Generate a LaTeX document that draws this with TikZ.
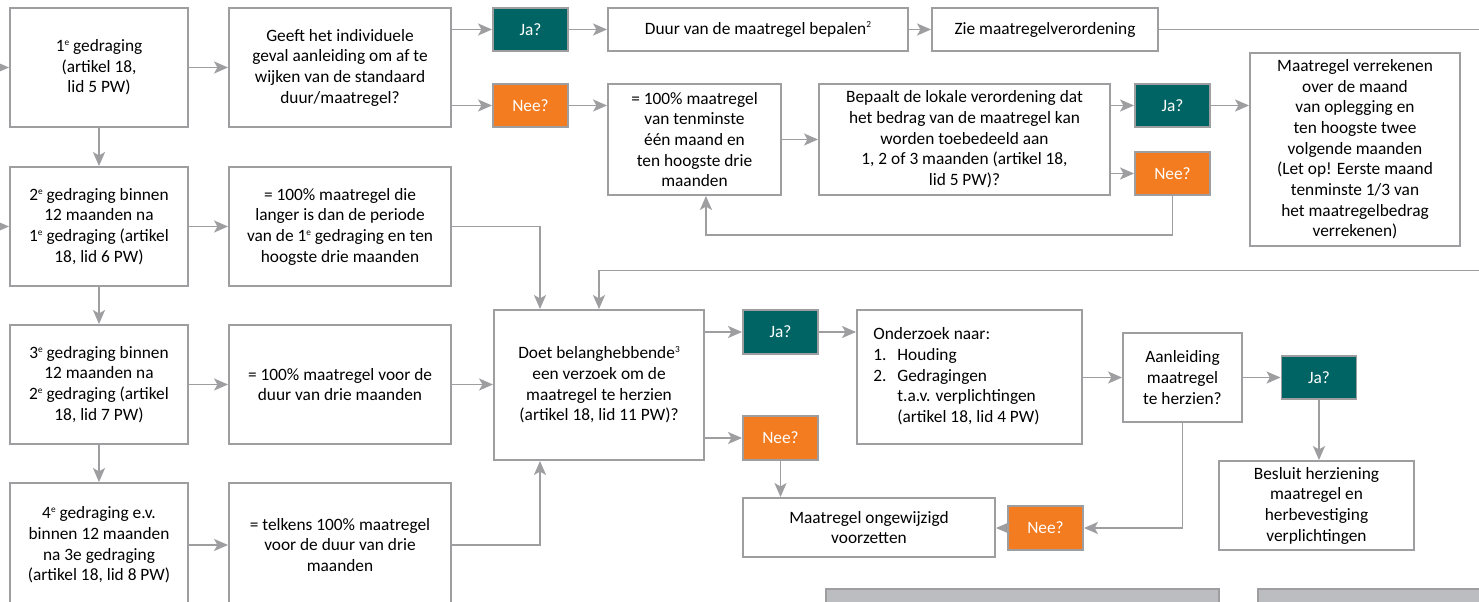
\documentclass[tikz,border=0pt]{standalone}
\usepackage{fontspec}
\setmainfont{Carlito}
\usetikzlibrary{arrows.meta}
\definecolor{lijngrijs}{RGB}{158,158,160}
\definecolor{jagroen}{RGB}{0,100,100}
\definecolor{neeoranje}{RGB}{243,123,32}
\definecolor{nootgrijs}{RGB}{188,189,192}
\newcommand{\bovenschr}[1]{\raisebox{0.75ex}{\fontsize{7}{7}\selectfont #1}}

\begin{document}
\begin{tikzpicture}[x=0.75pt,y=0.75pt,yscale=-1,xscale=1,
    blok/.style={draw=lijngrijs, line width=1.4pt, fill=white, align=center, inner sep=0pt, font=\fontsize{13}{15.5}\selectfont},
    links/.style={blok, minimum width=133.5pt, minimum height=89.25pt},
    midden/.style={blok, minimum width=166.5pt, minimum height=89.25pt},
    ja/.style={blok, fill=jagroen, text=white, minimum width=56.25pt, minimum height=32.25pt},
    nee/.style={ja, fill=neeoranje},
    pijl/.style={draw=lijngrijs, line width=1.4pt, -{Stealth[length=10.5pt,width=9pt,inset=2.5pt]}},
    lijn/.style={draw=lijngrijs, line width=1.4pt}]
    \useasboundingbox (0,0) rectangle (1479,602);
    \clip (0,0) rectangle (1479,602);

    % Text Node
    \node[links] (gedr1) at (99,67.5) {1\bovenschr{e} gedraging\\(artikel 18,\\lid 5 PW)};
    % Text Node
    \node[links] (gedr2) at (99,226.5) {2\bovenschr{e} gedraging binnen\\12 maanden na\\1\bovenschr{e} gedraging (artikel\\18, lid 6 PW)};
    % Text Node
    \node[links] (gedr3) at (99,384.5) {3\bovenschr{e} gedraging binnen\\12 maanden na\\2\bovenschr{e} gedraging (artikel\\18, lid 7 PW)};
    % Text Node
    \node[links, minimum height=93pt] (gedr4) at (99,545) {4\bovenschr{e} gedraging e.v.\\binnen 12 maanden\\na 3e gedraging\\(artikel 18, lid 8 PW)};
    % Text Node
    \node[midden] (std1) at (340,67.5) {Geeft het individuele\\geval aanleiding om af te\\wijken van de standaard\\duur/maatregel?};
    % Text Node
    \node[midden] (std2) at (340,226.5) {= 100\% maatregel die\\langer is dan de periode\\van de 1\bovenschr{e} gedraging en ten\\hoogste drie maanden};
    % Text Node
    \node[midden] (std3) at (340,384.5) {= 100\% maatregel voor de\\duur van drie maanden};
    % Text Node
    \node[midden, minimum height=93pt] (std4) at (340,545) {= telkens 100\% maatregel\\voor de duur van drie\\maanden};
    % Text Node
    \node[ja] (ja1) at (530.5,29.5) {Ja?};
    \node[nee] (nee1) at (530.5,105.5) {Nee?};
    % Text Node
    \node[blok, minimum width=225pt, minimum height=32.25pt] (duur) at (758,29.5) {Duur van de maatregel bepalen\bovenschr{2}};
    % Text Node
    \node[blok, minimum width=169.5pt, minimum height=32.25pt] (zie) at (1045,29.5) {Zie maatregelverordening};
    % Text Node
    \node[blok, minimum width=129.75pt, minimum height=83.25pt] (p100) at (694.5,139.5) {= 100\% maatregel\\van tenminste\\één maand en\\ten hoogste drie\\maanden};
    % Text Node
    \node[blok, minimum width=218.25pt, minimum height=83.25pt] (bepaalt) at (964.5,139.5) {Bepaalt de lokale verordening dat\\het bedrag van de maatregel kan\\worden toebedeeld aan\\1, 2 of 3 maanden (artikel 18,\\lid 5 PW)?};
    % Text Node
    \node[ja] (ja2) at (1172.5,105.5) {Ja?};
    \node[nee] (nee2) at (1172.5,173.5) {Nee?};
    % Text Node
    \node[blok, minimum width=157.5pt, minimum height=144.75pt] (verrek) at (1355,149.5) {Maatregel verrekenen\\over de maand\\van oplegging en\\ten hoogste twee\\volgende maanden\\(Let op! Eerste maand\\tenminste 1/3 van\\het maatregelbedrag\\verrekenen)};
    % Text Node
    \node[blok, minimum width=157.5pt, minimum height=112.5pt] (doet) at (599,385) {Doet belanghebbende\bovenschr{3}\\een verzoek om de\\maatregel te herzien\\(artikel 18, lid 11 PW)?};
    % Text Node
    \node[ja, minimum height=33pt] (ja3) at (780.5,332) {Ja?};
    \node[nee, minimum height=33pt] (nee3) at (780.5,438) {Nee?};
    % Text Node
    \node[blok, minimum width=168.75pt, minimum height=100.5pt] (onderzoek) at (969.5,377) {\begin{tabular}{@{}p{18pt}@{}l@{}}\multicolumn{2}{@{}l@{}}{Onderzoek naar:}\\1. & Houding\\2. & Gedragingen\\ & t.a.v. verplichtingen\\ & (artikel 18, lid 4 PW)\end{tabular}\hspace*{19.5pt}};
    % Text Node
    \node[blok, minimum width=89.25pt, minimum height=66.75pt] (aanl) at (1182.5,377.5) {Aanleiding\\maatregel\\te herzien?};
    % Text Node
    \node[ja] (ja4) at (1319,377.5) {Ja?};
    % Text Node
    \node[blok, minimum width=146.25pt, minimum height=66.75pt] (besluit) at (1316.5,505.5) {Besluit herziening\\maatregel en\\herbevestiging\\verplichtingen};
    % Text Node
    \node[nee, minimum height=33pt] (nee4) at (1045.5,528) {Nee?};
    % Text Node
    \node[blok, minimum width=189pt, minimum height=44.25pt] (ongew) at (869,527.5) {Maatregel ongewijzigd\\voorzetten};

    %Shape: Rectangle
    \draw[lijngrijs, line width=1.4pt, fill=nootgrijs] (826,589) rectangle (1219,630);
    \draw[lijngrijs, line width=1.4pt, fill=nootgrijs] (1258,589) rectangle (1500,630);

    \coordinate (in1) at (0,67.5);
    \coordinate (in2) at (0,226.5);
    \coordinate (uit1) at (1479,29.5);
    \coordinate (uit2) at (1479,270.5);

    %Straight Lines
    \draw[pijl] (in1) -- (gedr1);
    \draw[pijl] (in2) -- (gedr2);
    \draw[pijl] (gedr1) -- (gedr2);
    \draw[pijl] (gedr2) -- (gedr3);
    \draw[pijl] (gedr3) -- (gedr4);
    \draw[pijl] (gedr1) -- (std1);
    \draw[pijl] (gedr2) -- (std2);
    \draw[pijl] (gedr3) -- (std3);
    \draw[pijl] (gedr4) -- (std4);
    %Straight Lines
    \draw[pijl] (std1.east |- ja1) -- (ja1);
    \draw[pijl] (std1.east |- nee1) -- (nee1);
    \draw[pijl] (ja1) -- (duur);
    \draw[pijl] (duur) -- (zie);
    \draw[lijn] (zie) -- (uit1);
    \draw[pijl] (nee1) -- (nee1 -| p100.west);
    \draw[pijl] (p100) -- (bepaalt);
    \draw[pijl] (bepaalt.east |- ja2) -- (ja2);
    \draw[pijl] (bepaalt.east |- nee2) -- (nee2);
    \draw[pijl] (ja2) -- (ja2 -| verrek.west);
    \draw[pijl] (nee2.south) -- ++(0,39) -| ([xshift=8.6pt]p100.south);
    %Straight Lines
    \draw[pijl] (std2.east) -| ([xshift=-44.25pt]doet.north);
    \draw[pijl] (uit2) -| (doet.north);
    \draw[pijl] (std3.east) -- (std3.east -| doet.west);
    \draw[pijl] (std4.east) -| ([xshift=-44.25pt]doet.south);
    \draw[pijl] (doet.east |- ja3) -- (ja3);
    \draw[pijl] (doet.east |- nee3) -- (nee3);
    \draw[pijl] (ja3) -- (ja3 -| onderzoek.west);
    \draw[pijl] (onderzoek.east |- aanl) -- (aanl);
    \draw[pijl] (aanl) -- (ja4);
    \draw[pijl] (ja4) -- (ja4 |- besluit.north);
    \draw[pijl] (nee3) -- (nee3 |- ongew.north);
    \draw[pijl] (aanl.south) |- (nee4);
    \draw[pijl] (nee4) -- (nee4 -| ongew.east);

\end{tikzpicture}
\end{document}
